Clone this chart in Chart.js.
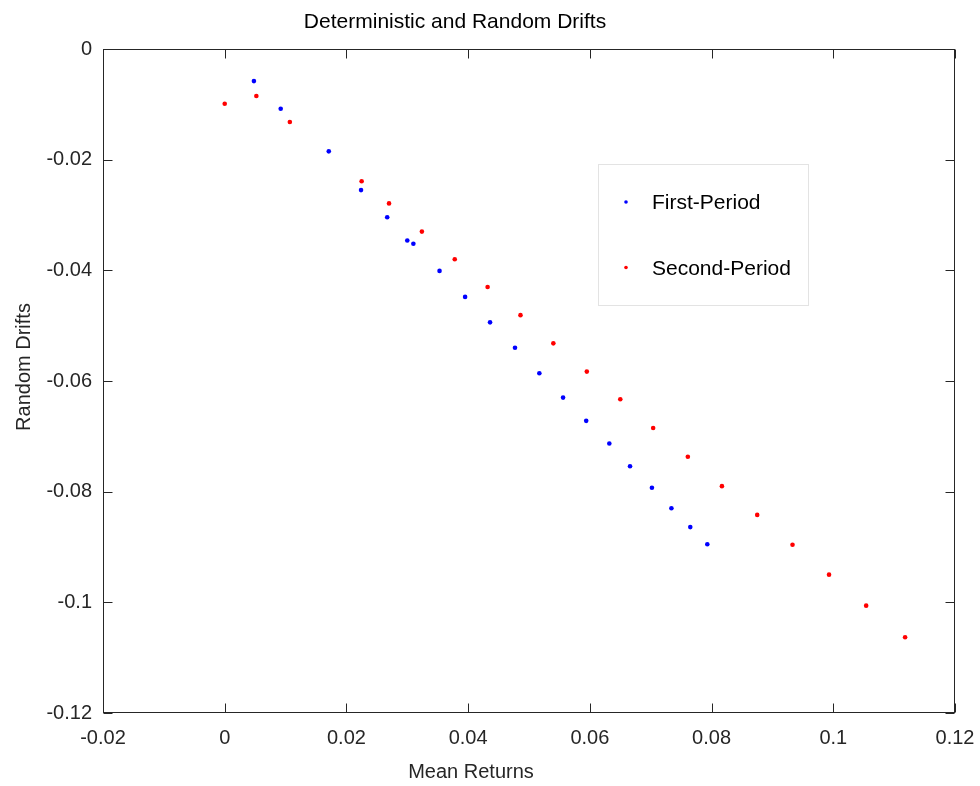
<!DOCTYPE html>
<html><head><meta charset="utf-8">
<script src="https://cdn.jsdelivr.net/npm/chart.js@4/dist/chart.umd.min.js"></script>
<style>html,body{margin:0;padding:0;background:#fff}#wrap{width:980px;height:786px;position:relative}</style>
</head><body><div id="wrap"><canvas id="c" width="980" height="786"></canvas></div>
<script>
const chartTitle = 'Deterministic and Random Drifts';
const xTitle = 'Mean Returns';
const yTitle = 'Random Drifts';
const seriesNames = ['First-Period', 'Second-Period'];
const seriesColors = ['#0000ff', '#ff0000'];

const firstX = [0.0048, 0.0092, 0.0171, 0.0224, 0.0267, 0.0300, 0.0310, 0.0353, 0.0395, 0.0436, 0.0477, 0.0517, 0.0556, 0.0594, 0.0632, 0.0666, 0.0702, 0.0734, 0.0765, 0.0793];
const firstY = [-0.0058, -0.0108, -0.0185, -0.0255, -0.0304, -0.0346, -0.0352, -0.0401, -0.0448, -0.0494, -0.0540, -0.0586, -0.0630, -0.0672, -0.0713, -0.0754, -0.0793, -0.0830, -0.0864, -0.0895];
const secondX = [0.0000, 0.0052, 0.0107, 0.0225, 0.0270, 0.0324, 0.0378, 0.0432, 0.0486, 0.0540, 0.0595, 0.0650, 0.0704, 0.0761, 0.0817, 0.0875, 0.0933, 0.0993, 0.1054, 0.1118];
const secondY = [-0.0099, -0.0085, -0.0132, -0.0239, -0.0279, -0.0330, -0.0380, -0.0430, -0.0481, -0.0532, -0.0583, -0.0633, -0.0685, -0.0737, -0.0790, -0.0842, -0.0896, -0.0950, -0.1006, -0.1063];

const xTicks = [-0.02, 0, 0.02, 0.04, 0.06, 0.08, 0.1, 0.12];
const yTicks = [0, -0.02, -0.04, -0.06, -0.08, -0.1, -0.12];

const FONT = '"Liberation Sans", Arial, Helvetica, sans-serif';
const AXIS_COLOR = '#262626';

function pairs(xs, ys) { return xs.map((x, i) => ({ x: x, y: ys[i] })); }
function fmt(v) { return String(Number(Number(v).toFixed(4))); }

const framePlugin = {
  id: 'frame',
  afterDraw(chart) {
    const ctx = chart.ctx;
    const a = chart.chartArea;
    const xs = chart.scales.x, ys = chart.scales.y;
    const L = Math.round(a.left) + 0.5, R = Math.round(a.right) - 0.5;
    const T = Math.round(a.top) + 0.5, B = Math.round(a.bottom) - 0.5;
    const tl = 9;
    ctx.save();
    ctx.strokeStyle = AXIS_COLOR;
    ctx.lineWidth = 1;
    ctx.strokeRect(L, T, R - L, B - T);
    ctx.beginPath();
    xTicks.forEach(v => {
      const p = Math.round(xs.getPixelForValue(v)) + 0.5;
      ctx.moveTo(p, B); ctx.lineTo(p, B - tl);
      ctx.moveTo(p, T); ctx.lineTo(p, T + tl);
    });
    yTicks.forEach(v => {
      const p = Math.round(ys.getPixelForValue(v)) + 0.5;
      ctx.moveTo(L, p); ctx.lineTo(L + tl, p);
      ctx.moveTo(R, p); ctx.lineTo(R - tl, p);
    });
    ctx.stroke();

    // titles
    ctx.fillStyle = '#000';
    ctx.textBaseline = 'alphabetic';
    ctx.textAlign = 'center';
    ctx.font = '21px ' + FONT;
    ctx.fillText(chartTitle, 455, 28);
    ctx.font = '20px ' + FONT;
    ctx.fillStyle = AXIS_COLOR;
    ctx.fillText(xTitle, 471, 778);
    ctx.save();
    ctx.translate(30, 367);
    ctx.rotate(-Math.PI / 2);
    ctx.fillText(yTitle, 0, 0);
    ctx.restore();

    // legend
    const bx = 598.5, by = 164.5, bw = 210, bh = 141;
    ctx.fillStyle = '#fff';
    ctx.fillRect(bx, by, bw, bh);
    ctx.strokeStyle = '#e3e3e3';
    ctx.strokeRect(bx, by, bw, bh);
    ctx.font = '21px ' + FONT;
    ctx.textAlign = 'left';
    ctx.textBaseline = 'middle';
    chart.data.datasets.forEach((ds, i) => {
      const cy = 202 + i * 65.5;
      ctx.fillStyle = ds.backgroundColor;
      ctx.beginPath();
      ctx.arc(626, cy, 1.8, 0, Math.PI * 2);
      ctx.fill();
      ctx.fillStyle = '#000';
      ctx.fillText(ds.label, 652, cy + 1.5);
    });
    ctx.restore();
  }
};

new Chart(document.getElementById('c'), {
  type: 'scatter',
  data: {
    datasets: [
      { label: seriesNames[0], data: pairs(firstX, firstY), backgroundColor: seriesColors[0], borderColor: seriesColors[0], pointRadius: 2.3, pointBorderWidth: 0, pointHoverRadius: 2.3 },
      { label: seriesNames[1], data: pairs(secondX, secondY), backgroundColor: seriesColors[1], borderColor: seriesColors[1], pointRadius: 2.3, pointBorderWidth: 0, pointHoverRadius: 2.3 }
    ]
  },
  options: {
    responsive: false,
    animation: false,
    devicePixelRatio: 1,
    layout: { padding: { top: 49, right: 25, left: 0, bottom: 0 } },
    plugins: { legend: { display: false }, title: { display: false }, tooltip: { enabled: false } },
    scales: {
      x: {
        type: 'linear', min: xTicks[0], max: xTicks[xTicks.length - 1],
        afterBuildTicks: s => { s.ticks = xTicks.map(v => ({ value: v })); },
        afterFit: s => { s.height = 73; s.paddingLeft = 0; s.paddingRight = 0; },
        grid: { display: false, drawTicks: false },
        border: { display: false },
        ticks: { font: { size: 20, family: FONT }, color: AXIS_COLOR, padding: 13, maxRotation: 0, autoSkip: false, callback: v => fmt(v) }
      },
      y: {
        type: 'linear', min: yTicks[yTicks.length - 1], max: yTicks[0],
        afterBuildTicks: s => { s.ticks = yTicks.map(v => ({ value: v })); },
        afterFit: s => { s.width = 103; s.paddingTop = 0; s.paddingBottom = 0; },
        grid: { display: false, drawTicks: false },
        border: { display: false },
        ticks: { font: { size: 20, family: FONT }, color: AXIS_COLOR, padding: 11, autoSkip: false, callback: v => fmt(v) }
      }
    }
  },
  plugins: [framePlugin]
});
</script>
</body></html>
